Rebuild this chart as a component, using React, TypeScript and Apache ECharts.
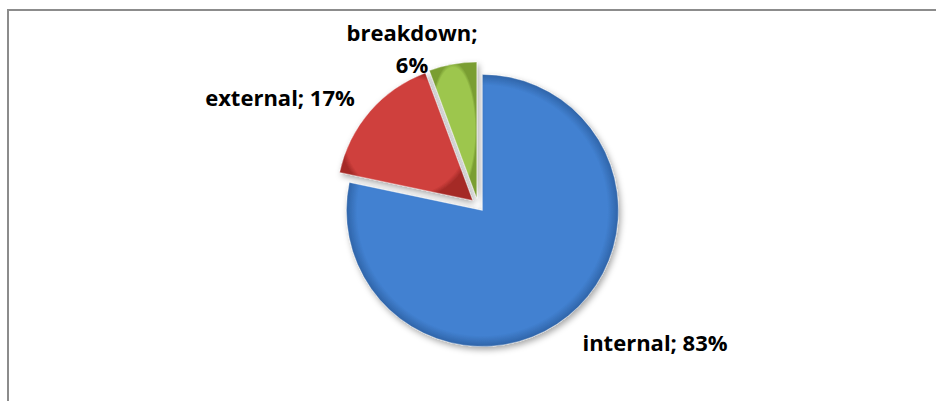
import React, { useEffect, useRef } from "react";
import * as echarts from "echarts";

const categories = ["internal", "external", "breakdown"];
const values = [83, 17, 6];
const colors = ["#4281d1", "#cf3f3c", "#9dc64d"];
const darkColors = ["#2f64a8", "#a52b28", "#7a9e33"];
const labelCenters = [
  [655, 342],
  [280, 97],
  [412, 48],
];

export default function App() {
  const ref = useRef<HTMLDivElement>(null);
  useEffect(() => {
    if (!ref.current) return;
    const chart = echarts.init(ref.current, undefined, { renderer: "svg" });
    const data = categories.map((name, i) => ({
      name,
      value: values[i],
      selected: true,
      itemStyle: {
        color: new echarts.graphic.RadialGradient(0.5, 0.5, 0.5, [
          { offset: 0, color: colors[i] },
          { offset: 0.92, color: colors[i] },
          { offset: 1, color: darkColors[i] },
        ]),
      },
    }));
    const labels = categories.map((name, i) => ({
      type: "text",
      x: labelCenters[i][0],
      y: labelCenters[i][1],
      silent: true,
      style: {
        text: name.length > 8 ? `${name};\n${values[i]}%` : `${name}; ${values[i]}%`,
        fontFamily: "Open Sans",
        fontWeight: "bold",
        fontSize: 22,
        lineHeight: 32,
        fill: "#000000",
        align: "center",
        verticalAlign: "middle",
      },
    }));
    chart.setOption({
      animation: false,
      backgroundColor: "#ffffff",
      graphic: [
        {
          type: "polyline",
          shape: { points: [[8, 401], [8, 10], [936, 10]] },
          style: { stroke: "#8c8c8c", lineWidth: 2, fill: "none" },
          silent: true,
        },
        ...labels,
      ],
      series: [
        {
          type: "pie",
          center: [478, 205],
          radius: [0, 136],
          startAngle: 90,
          clockwise: true,
          selectedMode: "multiple",
          selectedOffset: 7,
          itemStyle: {
            borderColor: "rgba(255,255,255,0.35)",
            borderWidth: 1,
            shadowBlur: 6,
            shadowOffsetX: 2,
            shadowOffsetY: 3,
            shadowColor: "rgba(0,0,0,0.35)",
          },
          label: { show: false },
          labelLine: { show: false },
          emphasis: { disabled: true },
          data,
        },
      ],
    });
    return () => chart.dispose();
  }, []);
  return (
    <div
      ref={ref}
      style={{ position: "fixed", left: 0, top: 0, width: 936, height: 401 }}
    />
  );
}
